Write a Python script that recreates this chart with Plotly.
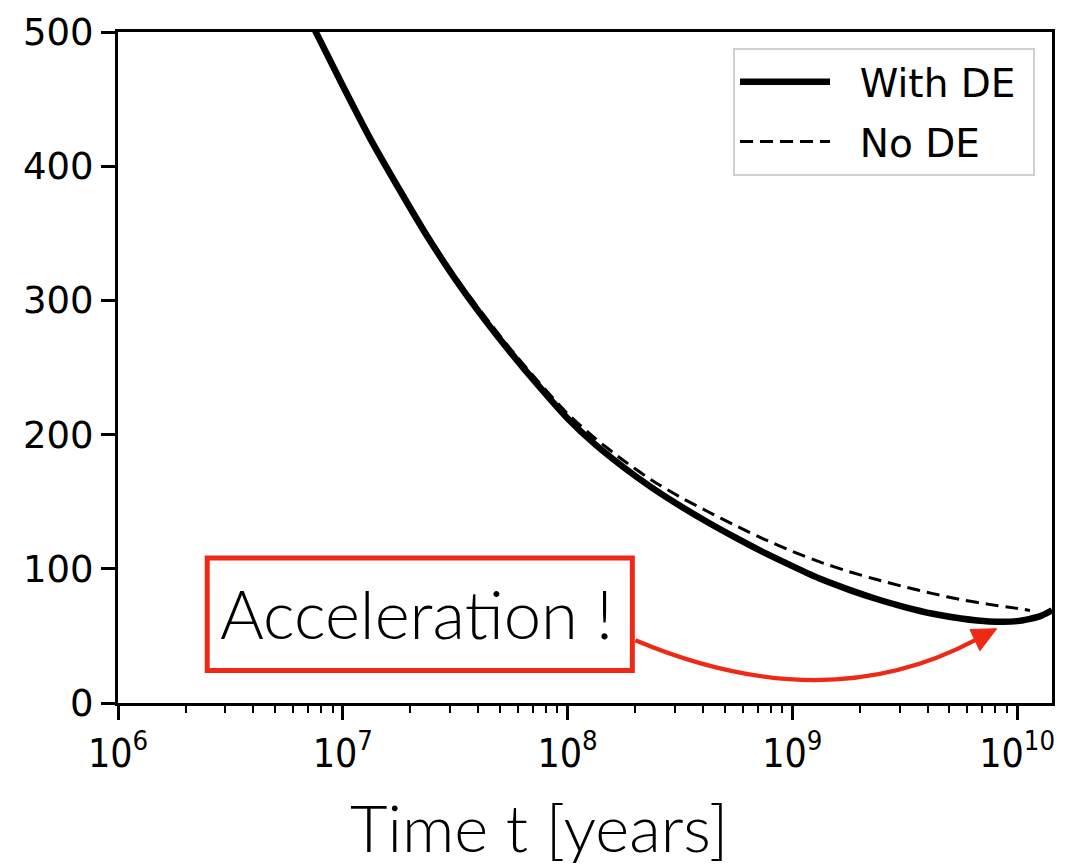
import plotly.graph_objects as go

# ---- data ----
time_with_de = [7.08e6, 1.0e7, 1.33e7, 1.78e7, 2.37e7, 3.16e7, 4.22e7, 5.62e7, 7.5e7,
                1.0e8, 1.33e8, 1.78e8, 2.37e8, 3.16e8, 4.22e8, 5.62e8, 7.5e8,
                1.0e9, 1.33e9, 1.78e9, 2.37e9, 3.16e9, 4.22e9, 5.62e9, 7.5e9,
                1.0e10, 1.26e10, 1.43e10]
speed_with_de = [510, 460, 420, 383, 348, 316, 287, 260.5, 235.5,
                 212, 192.5, 175.5, 160.5, 147, 134.5, 123, 112,
                 102, 92.5, 84.5, 77.5, 71.5, 66.5, 63, 60.8,
                 61, 64.5, 69]

time_no_de = [7.08e6, 1.0e7, 1.33e7, 1.78e7, 2.37e7, 3.16e7, 4.22e7, 5.62e7, 7.5e7,
              1.0e8, 1.33e8, 1.78e8, 2.37e8, 3.16e8, 4.22e8, 5.62e8, 7.5e8,
              1.0e9, 1.33e9, 1.78e9, 2.37e9, 3.16e9, 4.22e9, 5.62e9, 7.5e9,
              1.0e10, 1.14e10]
speed_no_de = [510, 461, 421, 384.5, 350, 318, 289.5, 263, 238.5,
               215.5, 197, 180.5, 166, 153.5, 142.5, 132, 122,
               113, 105, 98, 92, 86.5, 81.5, 77, 73.5,
               70.5, 69]

x_tick_vals = [1e6, 1e7, 1e8, 1e9, 1e10]
x_tick_text = ["10<sup>6</sup>", "10<sup>7</sup>", "10<sup>8</sup>", "10<sup>9</sup>", "10<sup>10</sup>"]
y_tick_vals = [0, 100, 200, 300, 400, 500]
y_tick_text = ["0", "100", "200", "300", "400", "500"]

legend_names = ["With DE", "No DE"]
annotation_text = "Acceleration !"
x_title = "Time t [years]"

# ---- geometry helpers (pixel -> paper) ----
W, H = 1066, 866
L, R, T, B = 118, 11, 30, 163
PW, PH = W - L - R, H - T - B


def px(x):
    return (x - L) / PW


def py(y):
    return (H - B - y) / PH


RED = "#EE2A16"
THIN_FONT = "Lato"
NB = "\u00a0"

fig = go.Figure()
fig.add_trace(go.Scatter(
    x=time_with_de, y=speed_with_de, mode="lines", name=NB * 2 + legend_names[0] + NB,
    line=dict(color="black", width=6.5, shape="spline", smoothing=0.6),
    legendgroup="a"))
fig.add_trace(go.Scatter(
    x=time_no_de, y=speed_no_de, mode="lines", name=NB * 2 + legend_names[1],
    line=dict(color="black", width=3, dash="13px,7px", shape="spline", smoothing=0.6),
    legendgroup="b"))

# annotation box
fig.add_shape(type="rect", xref="paper", yref="paper",
              x0=px(207.5), x1=px(634), y0=py(670.5), y1=py(557.5),
              line=dict(color=RED, width=5), fillcolor="white", layer="above")
fig.add_annotation(xref="paper", yref="paper", x=px(417), y=py(613),
                   text=annotation_text, showarrow=False,
                   xanchor="center", yanchor="middle",
                   font=dict(family=THIN_FONT, size=67, color="black", weight=300))

# curved arrow
p0 = (637, 640)
c = (827, 720)
p2 = (978, 640)
fig.add_shape(type="path", xref="paper", yref="paper",
              path=f"M {px(p0[0])},{py(p0[1])} Q {px(c[0])},{py(c[1])} {px(p2[0])},{py(p2[1])}",
              line=dict(color=RED, width=4.3), layer="above")
head = [(972.7, 629.3), (999.5, 628.5), (982.7, 650.7)]
fig.add_shape(type="path", xref="paper", yref="paper",
              path="M " + " L ".join(f"{px(a)},{py(b)}" for a, b in head) + " Z",
              line=dict(color=RED, width=1), fillcolor=RED, layer="above")

# x-axis title
fig.add_annotation(xref="paper", yref="paper", x=px(540), y=py(827),
                   text=x_title, showarrow=False, xanchor="center", yanchor="middle",
                   font=dict(family=THIN_FONT, size=65, color="black", weight=300))

fig.update_layout(
    width=W, height=H,
    margin=dict(l=L, r=R, t=T, b=B, pad=0),
    paper_bgcolor="white", plot_bgcolor="white",
    showlegend=True,
    legend=dict(x=px(735), y=py(46), xanchor="left", yanchor="top",
                bgcolor="white", bordercolor="#d0d0d0", borderwidth=2,
                font=dict(family="DejaVu Sans", size=39, color="black"),
                itemwidth=90, tracegroupgap=6, traceorder="grouped"),
    xaxis=dict(type="log", range=[6, 10.155],
               tickmode="array", tickvals=x_tick_vals, ticktext=x_tick_text,
               ticks="outside", ticklen=14, tickwidth=3, tickcolor="black",
               showline=True, linewidth=3, linecolor="black", mirror=True,
               showgrid=False, zeroline=False,
               tickfont=dict(family="DejaVu Sans Condensed, DejaVu Sans", size=39, color="black"),
               minor=dict(ticks="outside", ticklen=7, tickwidth=2, tickcolor="black",
                          dtick="D1", showgrid=False)),
    yaxis=dict(range=[0, 500], tickmode="array", tickvals=y_tick_vals, ticktext=y_tick_text,
               ticks="outside", ticklen=14, tickwidth=3, tickcolor="black",
               showline=True, linewidth=3, linecolor="black", mirror=True,
               showgrid=False, zeroline=False,
               tickfont=dict(family="DejaVu Sans", size=37, color="black")),
)

fig.write_html("out.html")
